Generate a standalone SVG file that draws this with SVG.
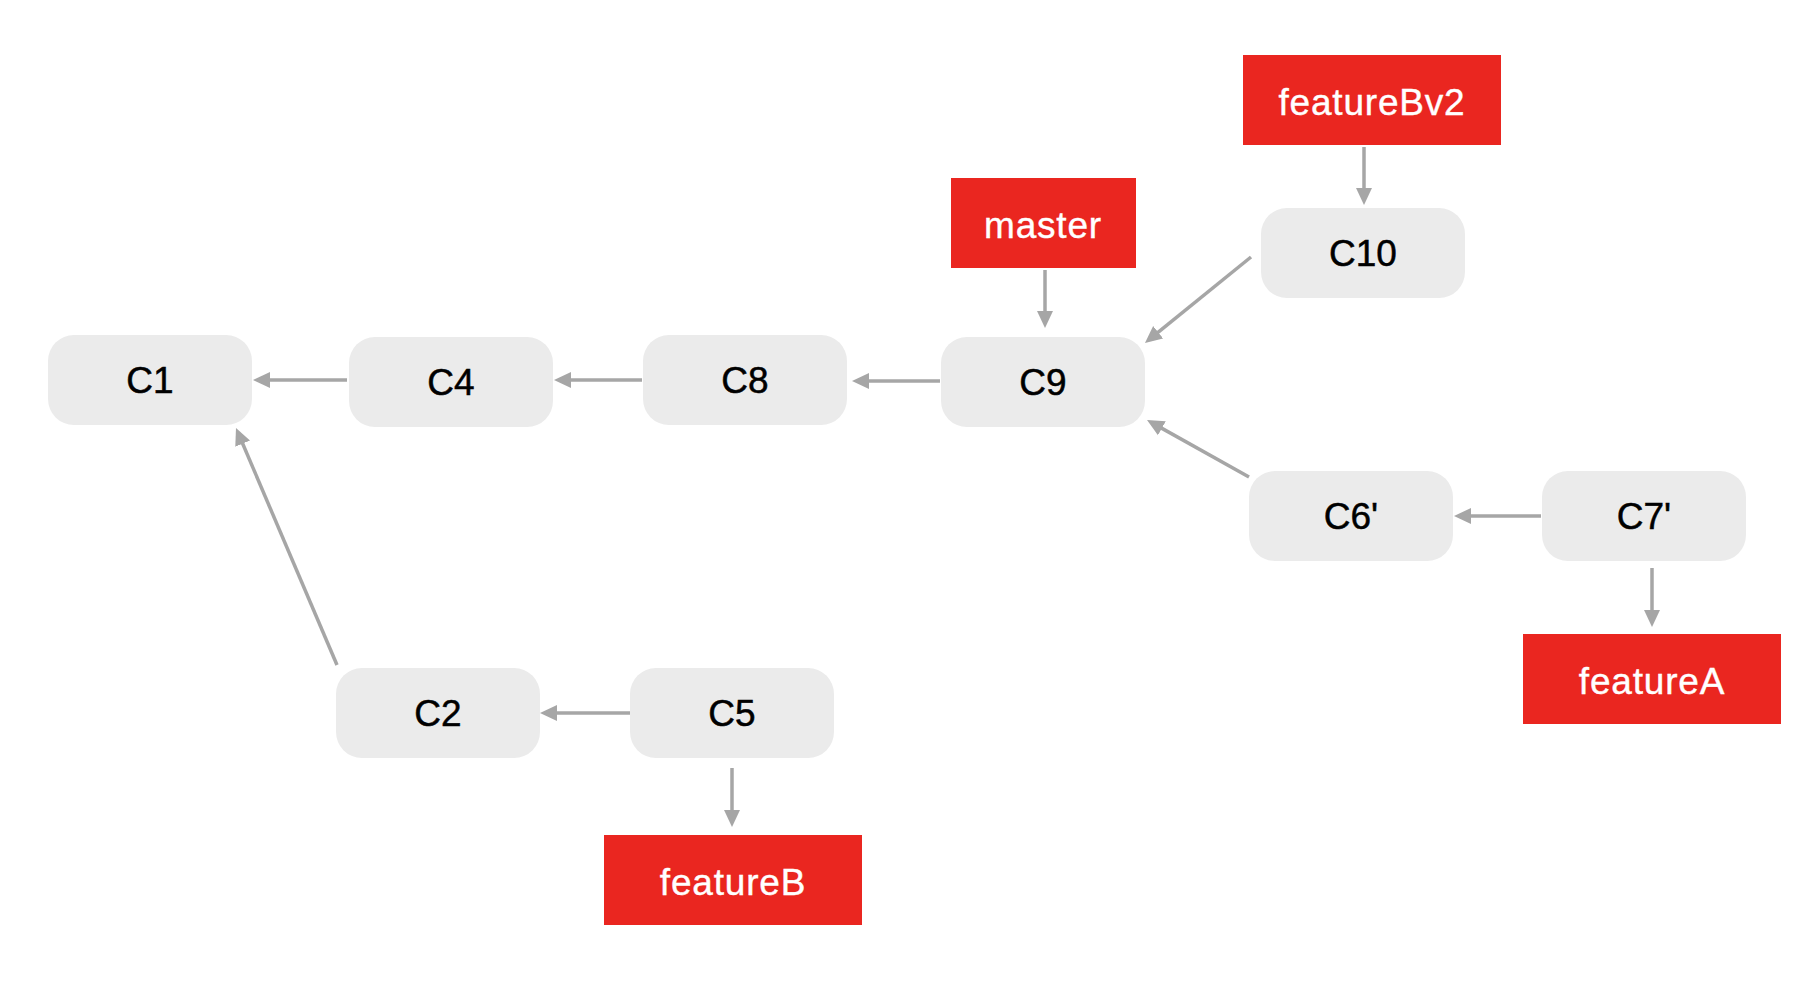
<svg xmlns="http://www.w3.org/2000/svg" width="1818" height="984" viewBox="0 0 1818 984">
  <style>
    .commit rect { fill: #ebebeb; }
    .commit text { font-family: "Liberation Sans", Arial, Helvetica, sans-serif; font-size: 37px; fill: #000000; stroke: #000000; stroke-width: 0.5px; text-anchor: middle; }
    .branch rect { fill: #ea2620; }
    .branch text { font-family: "Liberation Sans", Arial, Helvetica, sans-serif; font-size: 37px; fill: #ffffff; stroke: #ffffff; stroke-width: 0.4px; text-anchor: middle; letter-spacing: 0.8px; }
    .edge { stroke: #a6a6a6; stroke-width: 3.5; fill: none; marker-end: url(#head); }
  </style>
  <defs>
    <marker id="head" markerUnits="userSpaceOnUse" markerWidth="17" markerHeight="17" refX="5" refY="8.5" orient="auto">
      <path d="M0,0.5 L17,8.5 L0,16.5 z" fill="#a6a6a6"/>
    </marker>
  </defs>
  <rect width="1818" height="984" fill="#ffffff"/>

  <!-- commits -->
  <g id="c1" class="commit"><rect x="48" y="335" width="204" height="90" rx="26"/><text x="150" y="393">C1</text></g>
  <g id="c4" class="commit"><rect x="349" y="337" width="204" height="90" rx="26"/><text x="451" y="395">C4</text></g>
  <g id="c8" class="commit"><rect x="643" y="335" width="204" height="90" rx="26"/><text x="745" y="393">C8</text></g>
  <g id="c9" class="commit"><rect x="941" y="337" width="204" height="90" rx="26"/><text x="1043" y="395">C9</text></g>
  <g id="c10" class="commit"><rect x="1261" y="208" width="204" height="90" rx="26"/><text x="1363" y="266">C10</text></g>
  <g id="c6p" class="commit"><rect x="1249" y="471" width="204" height="90" rx="26"/><text x="1351" y="529">C6'</text></g>
  <g id="c7p" class="commit"><rect x="1542" y="471" width="204" height="90" rx="26"/><text x="1644" y="529">C7'</text></g>
  <g id="c2" class="commit"><rect x="336" y="668" width="204" height="90" rx="26"/><text x="438" y="726">C2</text></g>
  <g id="c5" class="commit"><rect x="630" y="668" width="204" height="90" rx="26"/><text x="732" y="726">C5</text></g>

  <!-- branch labels -->
  <g id="featureBv2" class="branch"><rect x="1243" y="55" width="258" height="90"/><text x="1372" y="115">featureBv2</text></g>
  <g id="master" class="branch"><rect x="951" y="178" width="185" height="90"/><text x="1043" y="238">master</text></g>
  <g id="featureA" class="branch"><rect x="1523" y="634" width="258" height="90"/><text x="1652" y="694">featureA</text></g>
  <g id="featureB" class="branch"><rect x="604" y="835" width="258" height="90"/><text x="733" y="895">featureB</text></g>

  <!-- connectors: child points to parent, branch points to commit -->
  <g id="connectors">
    <line class="edge" x1="347" y1="380" x2="265" y2="380"/>
    <line class="edge" x1="642" y1="380" x2="566" y2="380"/>
    <line class="edge" x1="940" y1="381" x2="864" y2="381"/>
    <line class="edge" x1="1045" y1="270" x2="1045" y2="316"/>
    <line class="edge" x1="1251" y1="257" x2="1154.3" y2="335.4"/>
    <line class="edge" x1="1249" y1="477" x2="1157.5" y2="425.9"/>
    <line class="edge" x1="1541" y1="516" x2="1466" y2="516"/>
    <line class="edge" x1="1364" y1="147" x2="1364" y2="193"/>
    <line class="edge" x1="1652" y1="568" x2="1652" y2="615"/>
    <line class="edge" x1="337" y1="665" x2="240.7" y2="439"/>
    <line class="edge" x1="630" y1="713" x2="552" y2="713"/>
    <line class="edge" x1="732" y1="768" x2="732" y2="815"/>
  </g>
</svg>
